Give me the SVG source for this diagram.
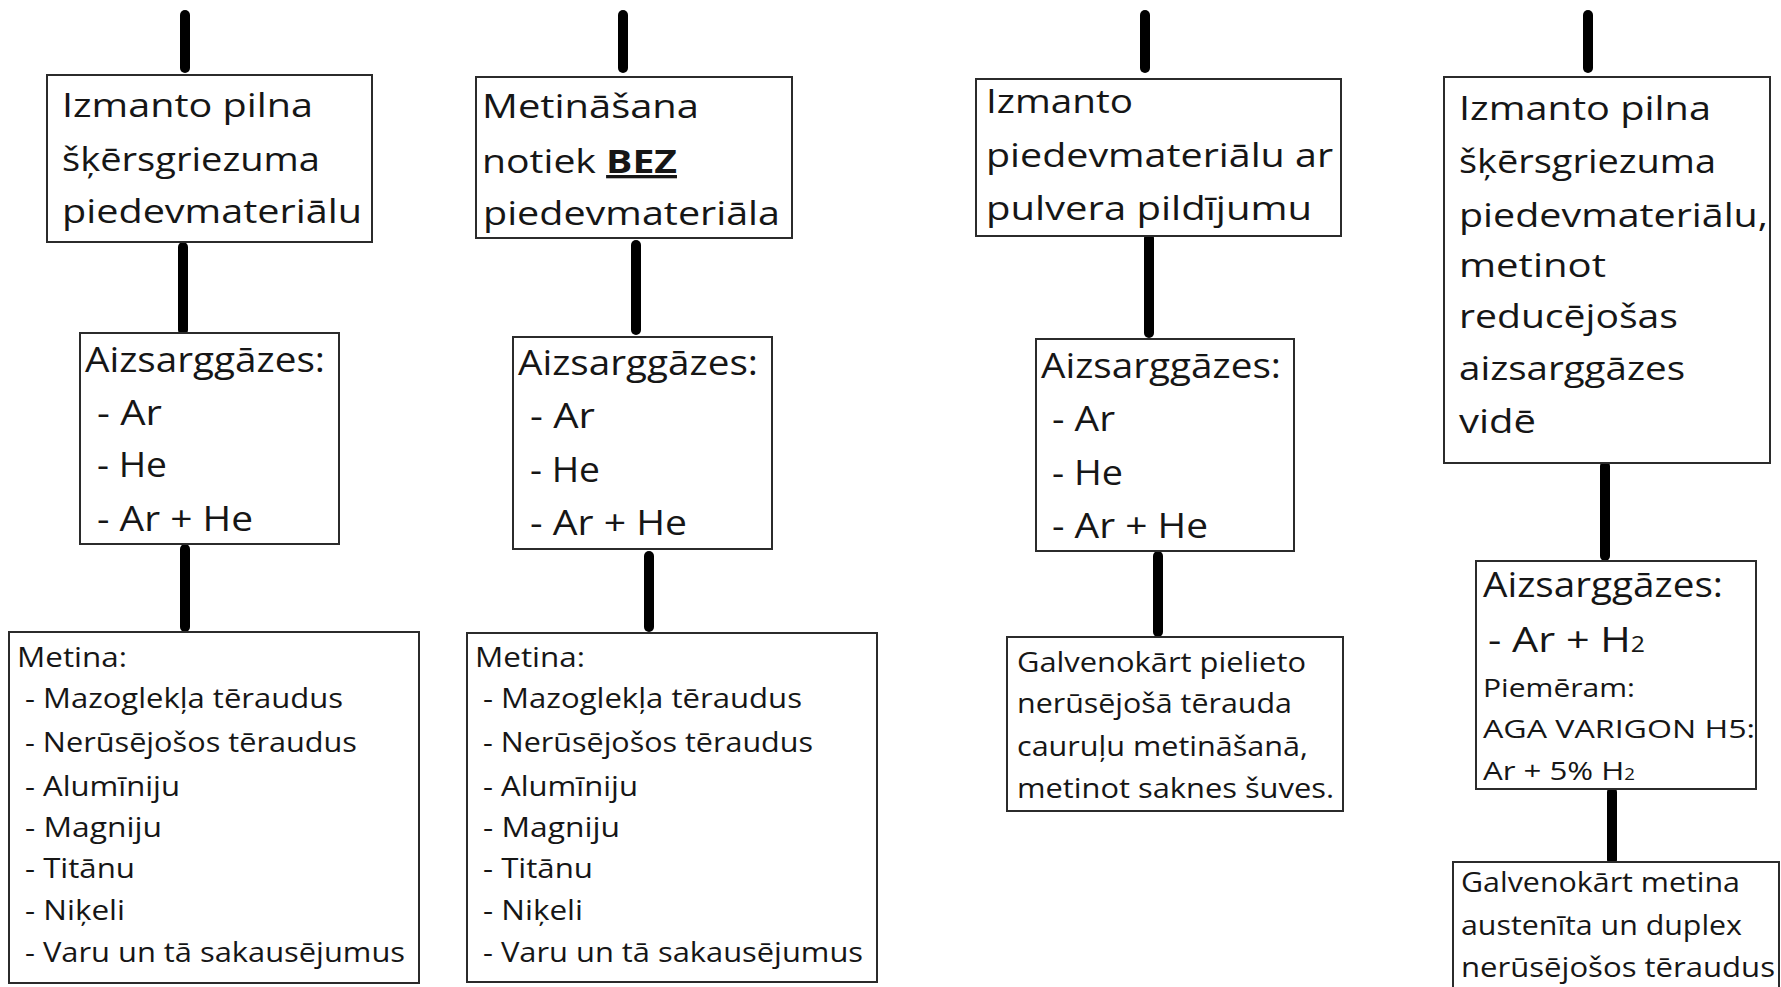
<svg xmlns="http://www.w3.org/2000/svg" width="1781" height="987" viewBox="0 0 1781 987">
<style>
.box{fill:#fff;stroke:#2b2b2b;stroke-width:2}
.conn{stroke:#000;stroke-width:10;stroke-linecap:round;fill:none}
text{font-family:"Open Sans","Noto Sans","DejaVu Sans",sans-serif;fill:#161616}
.t1{font-size:33px}
.t2{font-size:35px}
.t3{font-size:27px}
.t4{font-size:26px}
.sub{font-size:0.6em}
.bez{font-weight:bold;text-decoration:underline}
</style>
<rect width="1781" height="987" fill="#fff"/>
<g id="connectors">
<line class="conn" x1="185" y1="15" x2="185" y2="68"/>
<line class="conn" x1="183" y1="247" x2="183" y2="330"/>
<line class="conn" x1="185" y1="549" x2="185" y2="627"/>
<line class="conn" x1="623" y1="15" x2="623" y2="68"/>
<line class="conn" x1="636" y1="245" x2="636" y2="330"/>
<line class="conn" x1="649" y1="556" x2="649" y2="627"/>
<line class="conn" x1="1145" y1="15" x2="1145" y2="68"/>
<line class="conn" x1="1149" y1="238" x2="1149" y2="333"/>
<line class="conn" x1="1158" y1="556" x2="1158" y2="632"/>
<line class="conn" x1="1588" y1="15" x2="1588" y2="68"/>
<line class="conn" x1="1605" y1="466" x2="1605" y2="556"/>
<line class="conn" x1="1612" y1="792" x2="1612" y2="860"/>
</g>
<g id="c1b1">
<rect class="box" x="47" y="75" width="325" height="167"/>
<text class="t1" x="62" y="117" textLength="251" lengthAdjust="spacingAndGlyphs">Izmanto pilna</text>
<text class="t1" x="62" y="171" textLength="258" lengthAdjust="spacingAndGlyphs">šķērsgriezuma</text>
<text class="t1" x="62" y="223" textLength="300" lengthAdjust="spacingAndGlyphs">piedevmateriālu</text>
</g>
<g id="c2b1">
<rect class="box" x="476" y="77" width="316" height="161"/>
<text class="t1" x="482" y="118" textLength="217" lengthAdjust="spacingAndGlyphs">Metināšana</text>
<text class="t1" x="482" y="173" textLength="195" lengthAdjust="spacingAndGlyphs">notiek <tspan class="bez">BEZ</tspan></text>
<text class="t1" x="483" y="225" textLength="297" lengthAdjust="spacingAndGlyphs">piedevmateriāla</text>
</g>
<g id="c3b1">
<rect class="box" x="976" y="79" width="365" height="157"/>
<text class="t1" x="986" y="113" textLength="147" lengthAdjust="spacingAndGlyphs">Izmanto</text>
<text class="t1" x="986" y="167" textLength="347" lengthAdjust="spacingAndGlyphs">piedevmateriālu ar</text>
<text class="t1" x="986" y="220" textLength="326" lengthAdjust="spacingAndGlyphs">pulvera pildījumu</text>
</g>
<g id="c4b1">
<rect class="box" x="1444" y="77" width="326" height="386"/>
<text class="t1" x="1459" y="120" textLength="252" lengthAdjust="spacingAndGlyphs">Izmanto pilna</text>
<text class="t1" x="1459" y="173" textLength="257" lengthAdjust="spacingAndGlyphs">šķērsgriezuma</text>
<text class="t1" x="1459" y="227" textLength="309" lengthAdjust="spacingAndGlyphs">piedevmateriālu,</text>
<text class="t1" x="1459" y="277" textLength="147" lengthAdjust="spacingAndGlyphs">metinot</text>
<text class="t1" x="1459" y="328" textLength="219" lengthAdjust="spacingAndGlyphs">reducējošas</text>
<text class="t1" x="1459" y="380" textLength="226" lengthAdjust="spacingAndGlyphs">aizsarggāzes</text>
<text class="t1" x="1459" y="433" textLength="77" lengthAdjust="spacingAndGlyphs">vidē</text>
</g>
<g id="c1b2">
<rect class="box" x="80" y="333" width="259" height="211"/>
<text class="t2" x="85" y="372" textLength="240" lengthAdjust="spacingAndGlyphs">Aizsarggāzes:</text>
<text class="t2" x="97" y="425" textLength="65" lengthAdjust="spacingAndGlyphs">- Ar</text>
<text class="t2" x="97" y="477" textLength="70" lengthAdjust="spacingAndGlyphs">- He</text>
<text class="t2" x="97" y="531" textLength="156" lengthAdjust="spacingAndGlyphs">- Ar + He</text>
</g>
<g id="c2b2">
<rect class="box" x="513" y="337" width="259" height="212"/>
<text class="t2" x="518" y="375" textLength="240" lengthAdjust="spacingAndGlyphs">Aizsarggāzes:</text>
<text class="t2" x="530" y="428" textLength="65" lengthAdjust="spacingAndGlyphs">- Ar</text>
<text class="t2" x="530" y="482" textLength="70" lengthAdjust="spacingAndGlyphs">- He</text>
<text class="t2" x="530" y="535" textLength="157" lengthAdjust="spacingAndGlyphs">- Ar + He</text>
</g>
<g id="c3b2">
<rect class="box" x="1036" y="339" width="258" height="212"/>
<text class="t2" x="1041" y="378" textLength="240" lengthAdjust="spacingAndGlyphs">Aizsarggāzes:</text>
<text class="t2" x="1052" y="431" textLength="63" lengthAdjust="spacingAndGlyphs">- Ar</text>
<text class="t2" x="1052" y="485" textLength="71" lengthAdjust="spacingAndGlyphs">- He</text>
<text class="t2" x="1052" y="538" textLength="156" lengthAdjust="spacingAndGlyphs">- Ar + He</text>
</g>
<g id="c4b2">
<rect class="box" x="1476" y="561" width="280" height="228"/>
<text class="t2" x="1483" y="597" textLength="240" lengthAdjust="spacingAndGlyphs">Aizsarggāzes:</text>
<text class="t2" x="1488" y="652" textLength="157" lengthAdjust="spacingAndGlyphs">- Ar + H<tspan class="sub">2</tspan></text>
<text class="t4" x="1483" y="697" textLength="152" lengthAdjust="spacingAndGlyphs">Piemēram:</text>
<text class="t4" x="1483" y="738" textLength="272" lengthAdjust="spacingAndGlyphs">AGA VARIGON H5:</text>
<text class="t4" x="1483" y="780" textLength="152" lengthAdjust="spacingAndGlyphs">Ar + 5% H<tspan class="sub">2</tspan></text>
</g>
<g id="c1b3">
<rect class="box" x="9" y="632" width="410" height="351"/>
<text class="t3" x="17" y="667" textLength="110" lengthAdjust="spacingAndGlyphs">Metina:</text>
<text class="t3" x="25" y="708" textLength="318" lengthAdjust="spacingAndGlyphs">- Mazoglekļa tēraudus</text>
<text class="t3" x="25" y="752" textLength="332" lengthAdjust="spacingAndGlyphs">- Nerūsējošos tēraudus</text>
<text class="t3" x="25" y="796" textLength="155" lengthAdjust="spacingAndGlyphs">- Alumīniju</text>
<text class="t3" x="25" y="837" textLength="137" lengthAdjust="spacingAndGlyphs">- Magniju</text>
<text class="t3" x="25" y="878" textLength="110" lengthAdjust="spacingAndGlyphs">- Titānu</text>
<text class="t3" x="25" y="920" textLength="100" lengthAdjust="spacingAndGlyphs">- Niķeli</text>
<text class="t3" x="25" y="962" textLength="380" lengthAdjust="spacingAndGlyphs">- Varu un tā sakausējumus</text>
</g>
<g id="c2b3">
<rect class="box" x="467" y="633" width="410" height="349"/>
<text class="t3" x="475" y="667" textLength="110" lengthAdjust="spacingAndGlyphs">Metina:</text>
<text class="t3" x="483" y="708" textLength="319" lengthAdjust="spacingAndGlyphs">- Mazoglekļa tēraudus</text>
<text class="t3" x="483" y="752" textLength="330" lengthAdjust="spacingAndGlyphs">- Nerūsējošos tēraudus</text>
<text class="t3" x="483" y="796" textLength="155" lengthAdjust="spacingAndGlyphs">- Alumīniju</text>
<text class="t3" x="483" y="837" textLength="137" lengthAdjust="spacingAndGlyphs">- Magniju</text>
<text class="t3" x="483" y="878" textLength="110" lengthAdjust="spacingAndGlyphs">- Titānu</text>
<text class="t3" x="483" y="920" textLength="100" lengthAdjust="spacingAndGlyphs">- Niķeli</text>
<text class="t3" x="483" y="962" textLength="380" lengthAdjust="spacingAndGlyphs">- Varu un tā sakausējumus</text>
</g>
<g id="c3b3">
<rect class="box" x="1007" y="637" width="336" height="174"/>
<text class="t3" x="1017" y="672" textLength="289" lengthAdjust="spacingAndGlyphs">Galvenokārt pielieto</text>
<text class="t3" x="1017" y="713" textLength="275" lengthAdjust="spacingAndGlyphs">nerūsējošā tērauda</text>
<text class="t3" x="1017" y="756" textLength="291" lengthAdjust="spacingAndGlyphs">cauruļu metināšanā,</text>
<text class="t3" x="1017" y="798" textLength="317" lengthAdjust="spacingAndGlyphs">metinot saknes šuves.</text>
</g>
<g id="c4b3">
<rect class="box" x="1453" y="862" width="326" height="140"/>
<text class="t3" x="1461" y="892" textLength="279" lengthAdjust="spacingAndGlyphs">Galvenokārt metina</text>
<text class="t3" x="1461" y="935" textLength="281" lengthAdjust="spacingAndGlyphs">austenīta un duplex</text>
<text class="t3" x="1461" y="977" textLength="314" lengthAdjust="spacingAndGlyphs">nerūsējošos tēraudus</text>
</g>
</svg>
